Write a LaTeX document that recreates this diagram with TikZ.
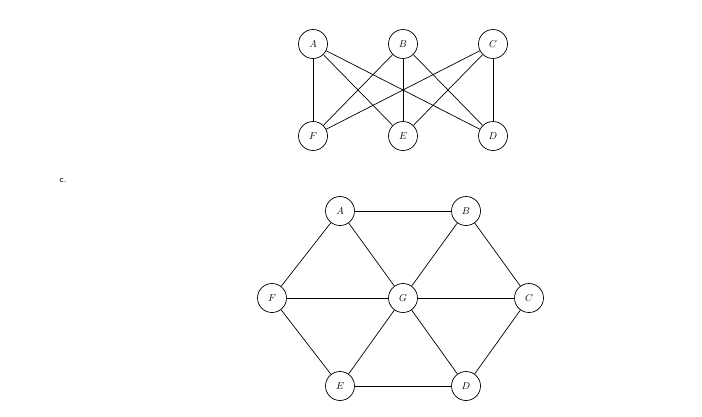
\documentclass[tikz,border=0pt]{standalone}
\begin{document}
\begin{tikzpicture}[x=1pt,y=-1pt,
  vtx/.style={circle,draw,line width=0.7pt,minimum size=29pt,inner sep=0pt,fill=white},
  edge/.style={line width=0.7pt}]
\useasboundingbox (0,0) rectangle (702,416);
\node[font=\sffamily\small] (lbl) at (63,180) {c.};
% top graph
\node[vtx] (a1) at (313,44) {$A$};
\node[vtx] (b1) at (403,44) {$B$};
\node[vtx] (c1) at (493,44) {$C$};
\node[vtx] (f1) at (313,136) {$F$};
\node[vtx] (e1) at (403,136) {$E$};
\node[vtx] (d1) at (493,136) {$D$};
\begin{scope}[on background layer/.try]
\end{scope}
\foreach \u in {a1,b1,c1}
  \foreach \v in {f1,e1,d1}
    \draw[edge] (\u) -- (\v);
% bottom graph
\node[vtx] (a2) at (340,211) {$A$};
\node[vtx] (b2) at (466,211) {$B$};
\node[vtx] (f2) at (272,298) {$F$};
\node[vtx] (g2) at (403,298) {$G$};
\node[vtx] (c2) at (529,298) {$C$};
\node[vtx] (e2) at (340,386) {$E$};
\node[vtx] (d2) at (466,386) {$D$};
\foreach \u/\v in {a2/b2,a2/f2,a2/g2,b2/g2,b2/c2,f2/g2,g2/c2,f2/e2,e2/g2,g2/d2,c2/d2,e2/d2}
  \draw[edge] (\u) -- (\v);
\end{tikzpicture}
\end{document}
